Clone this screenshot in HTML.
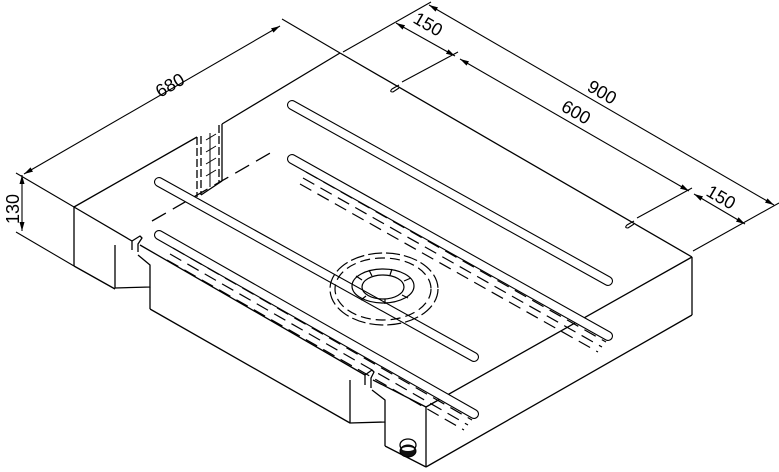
<!DOCTYPE html>
<html><head><meta charset="utf-8"><style>
html,body{margin:0;padding:0;background:#fff;width:779px;height:472px;overflow:hidden}
svg{display:block}
text{font-family:"Liberation Sans",sans-serif;font-size:18px;fill:#000}
</style></head><body>
<svg width="779" height="472" viewBox="0 0 779 472" xmlns="http://www.w3.org/2000/svg">
<defs>
<marker id="a" markerWidth="10" markerHeight="6" refX="9" refY="3" orient="auto-start-reverse" markerUnits="userSpaceOnUse"><path d="M0,0.5 L9,3 L0,5.5 Z" fill="#000"/></marker>
</defs>
<g fill="none" stroke="#000" stroke-width="1.3" stroke-linejoin="round">
<line x1="74" y1="207" x2="197" y2="137"/>
<line x1="222" y1="124" x2="340" y2="53"/>
<line x1="340" y1="53" x2="692" y2="257"/>
<line x1="426" y1="407" x2="692" y2="257"/>
<line x1="74" y1="207" x2="132" y2="241"/>
<line x1="140" y1="245" x2="365" y2="375"/>
<line x1="373" y1="380" x2="426" y2="407"/>
<path d="M132,241 L132,250 M132,241 L140,236 L142,238 L138,244 L138,252"/>
<path d="M365,375 L365,385 M365,375 L372,370 L374,372 L371,378 L371,388"/>
<line x1="74" y1="207" x2="74" y2="266"/>
<line x1="74" y1="266" x2="115" y2="289"/>
<path d="M115,245 L115,288 L150,287 L150,265 L138,255"/>
<line x1="150" y1="287" x2="150" y2="309"/>
<line x1="150" y1="309" x2="350" y2="423"/>
<path d="M350,380 L350,423 L385,422 L385,400 L372,390"/>
<line x1="385" y1="422" x2="385" y2="446"/>
<line x1="385" y1="446" x2="426" y2="467"/>
<line x1="426" y1="407" x2="426" y2="467"/>
<line x1="426" y1="467" x2="692" y2="315"/>
<line x1="692" y1="257" x2="692" y2="315"/>
<line x1="197" y1="137" x2="197" y2="197" stroke-dasharray="8,3"/>
<line x1="201" y1="136" x2="201" y2="195" stroke-dasharray="8,3"/>
<line x1="219" y1="125" x2="219" y2="183" stroke-dasharray="8,3"/>
<line x1="222" y1="124" x2="222" y2="181"/>
<line x1="201" y1="195" x2="222" y2="181"/>
<path d="M206,140 L216,134 M206,152 L216,146 M206,164 L216,158 M206,176 L216,170 M210,133 L210,187" stroke-width="1"/>
<line x1="152" y1="221" x2="272" y2="152" stroke-dasharray="16,8"/>
</g>
<g fill="none" stroke-linecap="round">
<g stroke="#000" stroke-width="10">
<line x1="292" y1="105" x2="608" y2="281"/>
<line x1="292" y1="159" x2="608" y2="336"/>
<line x1="159" y1="182" x2="474" y2="357"/>
<line x1="159" y1="235" x2="474" y2="414"/>
</g>
<g stroke="#fff" stroke-width="7.8">
<line x1="292" y1="105" x2="608" y2="281"/>
<line x1="292" y1="159" x2="608" y2="336"/>
<line x1="159" y1="182" x2="474" y2="357"/>
<line x1="159" y1="235" x2="474" y2="414"/>
</g>
</g>
<g fill="none" stroke="#000" stroke-width="1.2" stroke-dasharray="13,7">
<line x1="306" y1="172" x2="606" y2="342"/>
<line x1="303" y1="178" x2="602" y2="347"/>
<line x1="300" y1="184" x2="598" y2="352"/>
<line x1="173" y1="248" x2="472" y2="420"/>
<line x1="170" y1="254" x2="468" y2="425"/>
<line x1="167" y1="260" x2="464" y2="430"/>
</g>
<g fill="none" stroke="#000" stroke-width="1.2">
<ellipse cx="384" cy="289" rx="54" ry="36" stroke-dasharray="14,4"/>
<ellipse cx="383" cy="289" rx="48" ry="31" stroke-dasharray="10,5"/>
<ellipse cx="383" cy="286" rx="31" ry="17"/>
<ellipse cx="383" cy="287" rx="21" ry="12"/>
<path d="M362,280 L356,276 M372,276 L369,270 M390,275 L392,269 M404,281 L411,278 M402,295 L408,298 M385,299 L385,304 M366,296 L361,300"/>
</g>
<ellipse cx="408" cy="445" rx="8" ry="6" fill="#fff" stroke="#000" stroke-width="1.3"/>
<ellipse cx="408" cy="451" rx="8" ry="6" fill="#111" stroke="#000"/>
<ellipse cx="408" cy="449" rx="6" ry="2" fill="#fff"/>
<g fill="none" stroke="#000" stroke-width="1.1">
<line x1="74" y1="207" x2="16" y2="173"/>
<line x1="74" y1="266" x2="16" y2="232"/>
<line x1="340" y1="53" x2="282" y2="19"/>
<line x1="22" y1="175" x2="22" y2="231" marker-start="url(#a)" marker-end="url(#a)"/>
<line x1="24" y1="174" x2="280" y2="26" marker-start="url(#a)" marker-end="url(#a)"/>
<line x1="343" y1="52" x2="431" y2="2"/>
<line x1="693" y1="251" x2="779" y2="203"/>
<line x1="429" y1="5" x2="774" y2="205" marker-start="url(#a)" marker-end="url(#a)"/>
<line x1="396" y1="23" x2="455" y2="56" marker-start="url(#a)" marker-end="url(#a)"/>
<line x1="460" y1="59" x2="689" y2="191" marker-start="url(#a)" marker-end="url(#a)"/>
<line x1="694" y1="194" x2="745" y2="224" marker-start="url(#a)" marker-end="url(#a)"/>
<line x1="402" y1="82" x2="458" y2="52"/>
<path d="M399,85 L392,89 Q389,92 393,92 L399,88"/>
<line x1="637" y1="218" x2="692" y2="188"/>
<path d="M634,221 L627,225 Q624,228 628,228 L634,224"/>
</g>
<g>
<text transform="translate(160,98) rotate(-30)">680</text>
<text transform="translate(19,224) rotate(-90)">130</text>
<text transform="translate(412,22) rotate(30)">150</text>
<text transform="translate(586,90) rotate(30)">900</text>
<text transform="translate(560,110) rotate(30)">600</text>
<text transform="translate(705,195) rotate(30)">150</text>
</g>
</svg>
</body></html>
